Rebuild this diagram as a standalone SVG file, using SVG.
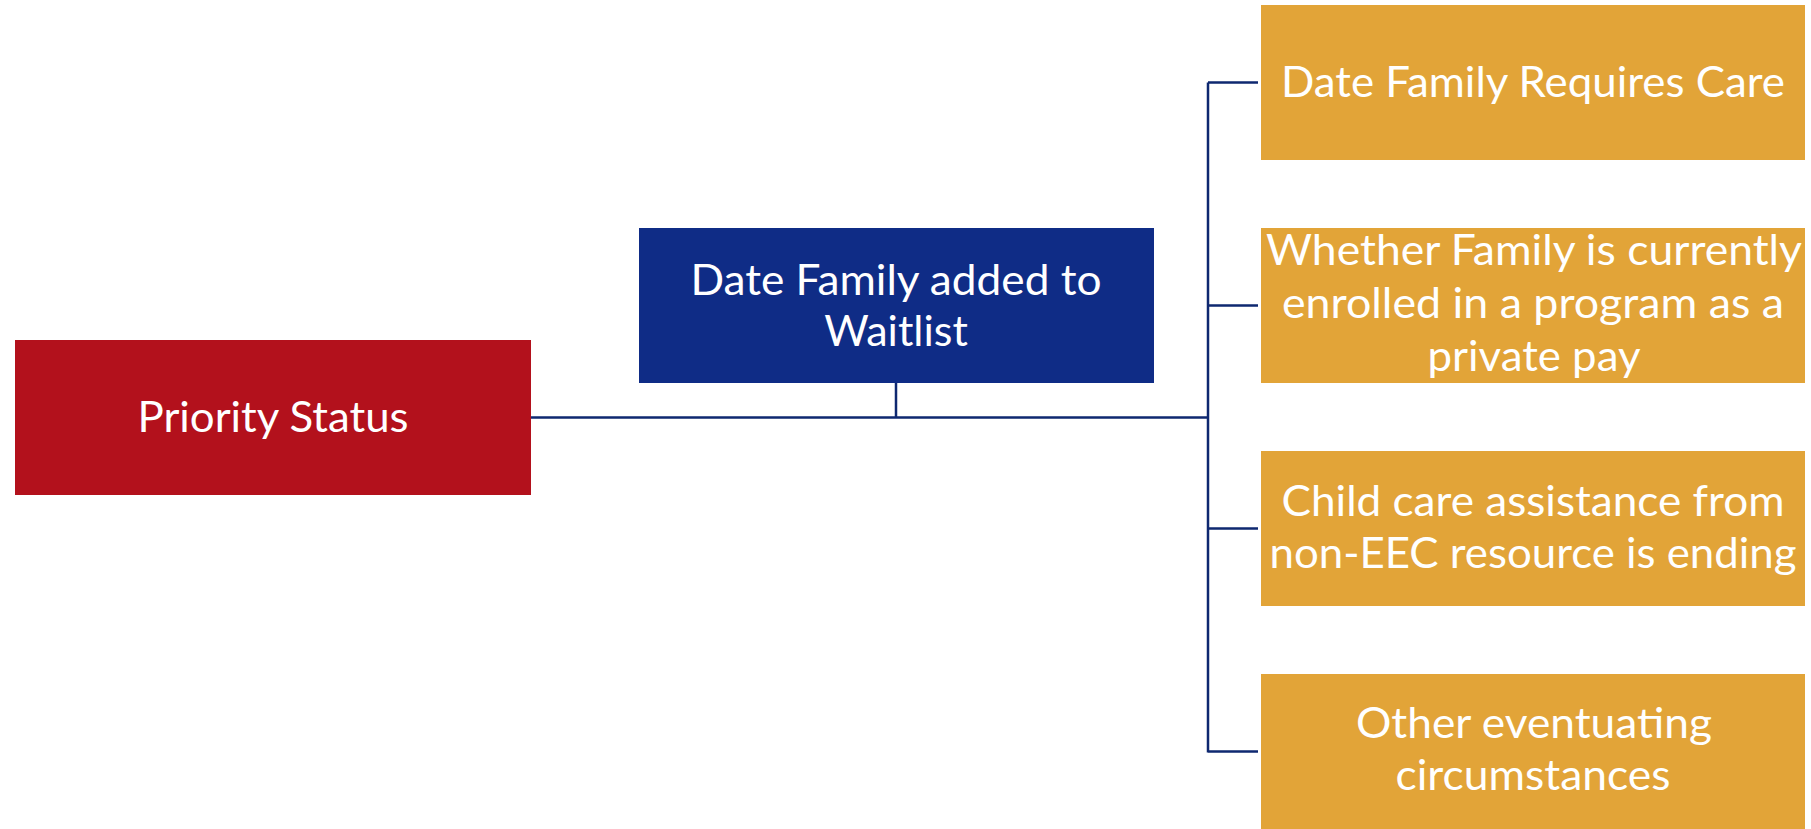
<svg xmlns="http://www.w3.org/2000/svg" width="1811" height="829" viewBox="0 0 1811 829">
<style>
.t{font-family:Lato,"Open Sans","Liberation Sans",sans-serif;font-size:43px;fill:#fff;text-anchor:middle}
.red{fill:#B3111C}
.blue{fill:#0F2C86}
.org{fill:#E2A438}
.c{stroke:#0E2870;stroke-width:2.5;fill:none}
</style>
<rect width="1811" height="829" fill="#fff"/>
<g id="connectors">
<path class="c" d="M531 417.5H1208M896 382V417.5M1208 82.5V752.5M1208 82.5H1258M1208 305.5H1258M1208 528.5H1258M1208 751.5H1258"/>
</g>
<g id="priority">
<rect class="red" x="15" y="340" width="516" height="155"/>
<text class="t" x="273" y="432" textLength="271" lengthAdjust="spacingAndGlyphs">Priority Status</text>
</g>
<g id="waitlist">
<rect class="blue" x="639" y="228" width="515" height="155"/>
<text class="t" x="896" y="295" textLength="411" lengthAdjust="spacingAndGlyphs">Date Family added to</text>
<text class="t" x="896" y="346">Waitlist</text>
</g>
<g id="requires">
<rect class="org" x="1261" y="5" width="544" height="155"/>
<text class="t" x="1533" y="97" textLength="504" lengthAdjust="spacingAndGlyphs">Date Family Requires Care</text>
</g>
<g id="enrolled">
<rect class="org" x="1261" y="228" width="544" height="155"/>
<text class="t" x="1534" y="265" textLength="536" lengthAdjust="spacingAndGlyphs">Whether Family is currently</text>
<text class="t" x="1533" y="318" textLength="502" lengthAdjust="spacingAndGlyphs">enrolled in a program as a</text>
<text class="t" x="1534" y="371" textLength="213" lengthAdjust="spacingAndGlyphs">private pay</text>
</g>
<g id="assistance">
<rect class="org" x="1261" y="451" width="544" height="155"/>
<text class="t" x="1533" y="516" textLength="503" lengthAdjust="spacingAndGlyphs">Child care assistance from</text>
<text class="t" x="1533" y="568" textLength="527" lengthAdjust="spacingAndGlyphs">non-EEC resource is ending</text>
</g>
<g id="other">
<rect class="org" x="1261" y="674" width="544" height="155"/>
<text class="t" x="1534" y="738" textLength="356" lengthAdjust="spacingAndGlyphs">Other eventuating</text>
<text class="t" x="1533" y="790" textLength="275" lengthAdjust="spacingAndGlyphs">circumstances</text>
</g>
</svg>
